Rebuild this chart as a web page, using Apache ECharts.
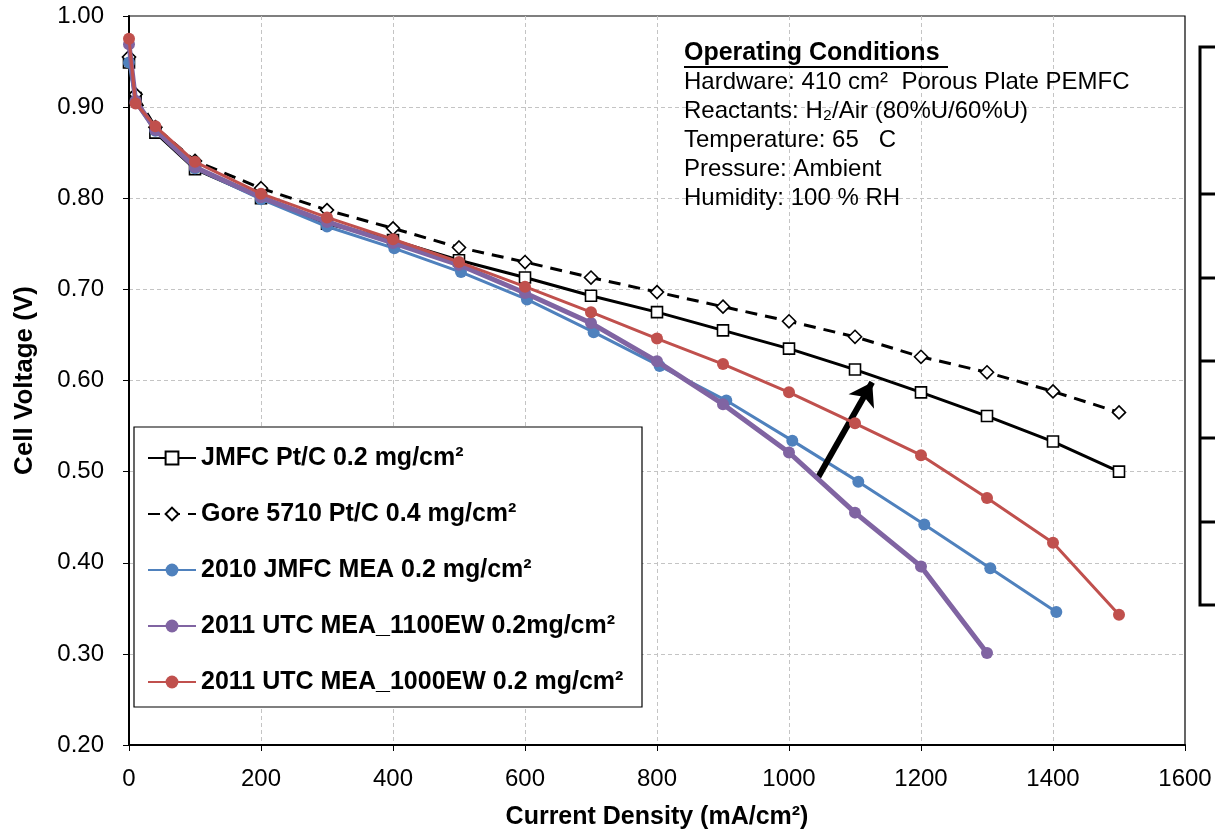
<!DOCTYPE html>
<html>
<head>
<meta charset="utf-8">
<script src="https://cdn.jsdelivr.net/npm/echarts@6/dist/echarts.min.js"></script>
<style>
html,body{margin:0;padding:0;background:#fff;}
#chart{width:1215px;height:832px;}
</style>
</head>
<body>
<div id="chart"></div>
<script>
// ---- Data ----
const seriesNames = [
  'JMFC Pt/C 0.2 mg/cm²',
  'Gore 5710 Pt/C 0.4 mg/cm²',
  '2010 JMFC MEA 0.2 mg/cm²',
  '2011 UTC MEA_1100EW 0.2mg/cm²',
  '2011 UTC MEA_1000EW 0.2 mg/cm²'
];
const jmfcX = [0, 10, 40, 100, 200, 300, 400, 500, 600, 700, 800, 900, 1000, 1100, 1200, 1300, 1400, 1500];
const jmfcY = [0.949, 0.910, 0.872, 0.832, 0.800, 0.772, 0.754, 0.732, 0.713, 0.693, 0.675, 0.655, 0.635, 0.612, 0.587, 0.561, 0.533, 0.500];
const goreX = [0, 10, 40, 100, 200, 300, 400, 500, 600, 700, 800, 900, 1000, 1100, 1200, 1300, 1400, 1500];
const goreY = [0.955, 0.914, 0.878, 0.841, 0.811, 0.787, 0.767, 0.746, 0.730, 0.713, 0.697, 0.681, 0.665, 0.648, 0.626, 0.609, 0.588, 0.565];
const jm2010X = [0, 10, 40, 100, 200, 300, 402, 503, 603, 704, 804, 905, 1005, 1105, 1205, 1305, 1405];
const jm2010Y = [0.949, 0.905, 0.874, 0.833, 0.799, 0.769, 0.745, 0.719, 0.689, 0.653, 0.616, 0.578, 0.534, 0.489, 0.442, 0.394, 0.346];
const utc1100X = [0, 10, 40, 100, 200, 300, 400, 500, 600, 700, 800, 900, 1000, 1100, 1200, 1300];
const utc1100Y = [0.969, 0.907, 0.875, 0.834, 0.801, 0.774, 0.751, 0.727, 0.696, 0.663, 0.621, 0.574, 0.521, 0.455, 0.396, 0.301];
const utc1000X = [0, 10, 40, 100, 200, 300, 400, 500, 600, 700, 800, 900, 1000, 1100, 1200, 1300, 1400, 1500];
const utc1000Y = [0.975, 0.904, 0.879, 0.840, 0.805, 0.779, 0.755, 0.730, 0.703, 0.675, 0.646, 0.618, 0.587, 0.553, 0.518, 0.471, 0.422, 0.343];
const xTicks = [0, 200, 400, 600, 800, 1000, 1200, 1400, 1600];
const yTicks = [0.20, 0.30, 0.40, 0.50, 0.60, 0.70, 0.80, 0.90, 1.00];
const arrowFrom = [1042, 0.491];
const arrowTo = [1126, 0.598];
const conditionsTitle = 'Operating Conditions';
const conditionsLines = [
  'Hardware: 410 cm²  Porous Plate PEMFC',
  'Reactants: H₂/Air (80%U/60%U)',
  'Temperature: 65   C',
  'Pressure: Ambient',
  'Humidity: 100 % RH'
];
const xTitle = 'Current Density (mA/cm²)';
const yTitle = 'Cell Voltage (V)';

// ---- Build ----
const FONT = '"Liberation Sans", Arial, sans-serif';
function pairs(xs, ys){ return xs.map((x,i)=>[x, ys[i]]); }

const chart = echarts.init(document.getElementById('chart'), null, {renderer:'canvas'});

const gridLeft = 129, gridTop = 16, gridRight = 30, gridBottom = 87;

const condGraphics = [];
condGraphics.push({
  type:'text', left: 684, top: 41, z: 10,
  style:{ text: conditionsTitle, font: 'bold 25px ' + FONT, fill:'#000' }
});
condGraphics.push({
  type:'rect', z: 10, shape:{ x: 684, y: 66, width: 264, height: 2 }, style:{ fill:'#000' }
});
conditionsLines.forEach((t,i)=>{
  condGraphics.push({
    type:'text', left: 684, top: 70 + i*29, z: 10,
    style:{ text: t, font: '24px ' + FONT, fill:'#000' }
  });
});

// decorative frame at right edge (part of neighbouring element)
const rightBox = [
  { type:'rect', z: 1, shape:{ x: 1200, y: 47, width: 40, height: 558 }, style:{ fill:'none', stroke:'#000', lineWidth: 3 } }
];
[194, 278, 361, 438, 522].forEach(y=>{
  rightBox.push({ type:'line', z:1, shape:{ x1:1200, y1:y, x2:1215, y2:y }, style:{ stroke:'#000', lineWidth:3 } });
});

const option = {
  animation: false,
  backgroundColor: '#fff',
  textStyle: { fontFamily: FONT },
  grid: {
    left: gridLeft, right: gridRight, top: gridTop, bottom: gridBottom,
    outerBoundsMode: 'none', containLabel: false,
    show: true, borderColor: '#000', borderWidth: 1.2, backgroundColor: 'transparent'
  },
  xAxis: {
    type: 'value', min: xTicks[0], max: xTicks[xTicks.length-1], interval: 200,
    name: xTitle, nameLocation: 'middle', nameGap: 60,
    nameTextStyle: { fontFamily: FONT, fontWeight: 'bold', fontSize: 25, color: '#000' },
    axisLine: { show: true, onZero: false, lineStyle: { color: '#000', width: 2 } },
    axisTick: { show: true, length: 6, lineStyle: { color: '#000', width: 1 } },
    axisLabel: { fontFamily: FONT, fontSize: 24, color: '#000', margin: 22,
                 formatter: v => String(v) },
    splitLine: { show: true, showMaxLine: false, lineStyle: { color: '#c4c4c4', type: [4,3], width: 1 } }
  },
  yAxis: {
    type: 'value', min: yTicks[0], max: yTicks[yTicks.length-1], interval: 0.1,
    name: yTitle, nameLocation: 'middle', nameGap: 91, nameRotate: 90,
    nameTextStyle: { fontFamily: FONT, fontWeight: 'bold', fontSize: 26, color: '#000' },
    axisLine: { show: true, lineStyle: { color: '#000', width: 2 } },
    axisTick: { show: true, length: 6, lineStyle: { color: '#000', width: 1 } },
    axisLabel: { fontFamily: FONT, fontSize: 24, color: '#000', margin: 25,
                 formatter: v => v.toFixed(2) },
    splitLine: { show: true, showMaxLine: false, lineStyle: { color: '#c4c4c4', type: [4,3], width: 1 } }
  },
  legend: {
    orient: 'vertical', left: 134, top: 427,
    padding: [18, 10, 15, 13],
    itemWidth: 48, itemHeight: 16, itemGap: 30,
    textStyle: { fontFamily: FONT, fontWeight: 'bold', fontSize: 25, color: '#000', lineHeight: 26 },
    data: seriesNames,
    z: 6
  },
  graphic: [
    { type:'rect', z: 5, shape:{ x: 134, y: 427, width: 508, height: 280 }, style:{ fill:'#fff', stroke:'#000', lineWidth: 1.2 } },
    ...condGraphics,
    ...rightBox
  ],
  series: [
    {
      name: seriesNames[0], type:'line', data: pairs(jmfcX, jmfcY),
      symbol: 'rect', symbolSize: 11, color: '#000',
      lineStyle: { color:'#000', width: 3 },
      itemStyle: { color:'#fff', borderColor:'#000', borderWidth: 1.6 },
      z: 2,
      markLine: {
        silent: true, symbol: ['none','arrow'], symbolSize: 22,
        label: { show: false },
        emphasis: { disabled: true },
        lineStyle: { color:'#000', width: 6, type:'solid' },
        itemStyle: { color:'#000' },
        data: [[ { coord: arrowFrom }, { coord: arrowTo } ]]
      }
    },
    {
      name: seriesNames[1], type:'line', data: pairs(goreX, goreY),
      symbol: 'diamond', symbolSize: 13, color: '#000',
      lineStyle: { color:'#000', width: 3, type: [12,8] },
      itemStyle: { color:'#fff', borderColor:'#000', borderWidth: 1.6 },
      z: 3
    },
    {
      name: seriesNames[2], type:'line', data: pairs(jm2010X, jm2010Y),
      symbol: 'circle', symbolSize: 12, color: '#4F81BD',
      lineStyle: { color:'#4F81BD', width: 3 },
      itemStyle: { color:'#4F81BD' },
      z: 4
    },
    {
      name: seriesNames[3], type:'line', data: pairs(utc1100X, utc1100Y),
      symbol: 'circle', symbolSize: 12, color: '#8064A2',
      lineStyle: { color:'#8064A2', width: 5 },
      itemStyle: { color:'#8064A2' },
      z: 5
    },
    {
      name: seriesNames[4], type:'line', data: pairs(utc1000X, utc1000Y),
      symbol: 'circle', symbolSize: 12, color: '#C0504D',
      lineStyle: { color:'#C0504D', width: 3 },
      itemStyle: { color:'#C0504D' },
      z: 6
    }
  ]
};
chart.setOption(option);
</script>
</body>
</html>
